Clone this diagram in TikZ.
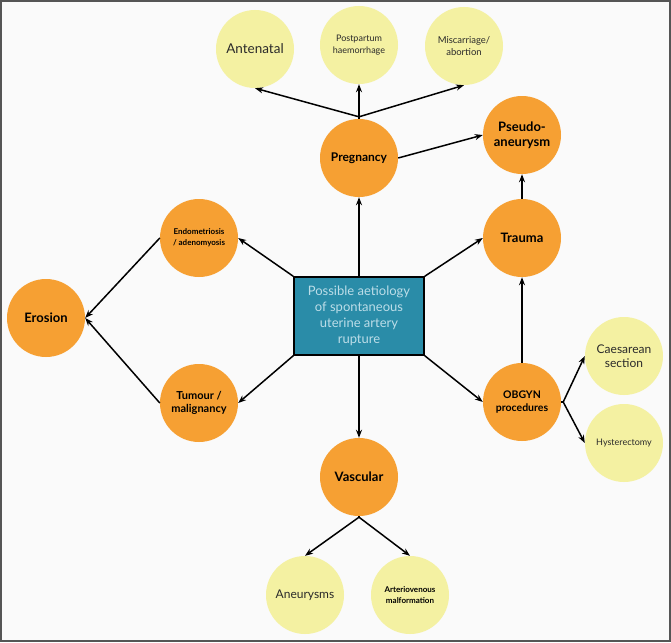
\documentclass[tikz,border=0pt]{standalone}
\usepackage{fontspec}
\setmainfont{Lato}
\usetikzlibrary{arrows.meta}
\definecolor{bgc}{HTML}{FAFAFA}
\definecolor{framec}{HTML}{555555}
\definecolor{orng}{HTML}{F6A033}
\definecolor{ylw}{HTML}{F4F1A2}
\definecolor{teal}{HTML}{2A8CA8}
\definecolor{boxtxt}{HTML}{BCDDE8}
\definecolor{txtc}{HTML}{2A2A2A}
\tikzset{
  ocirc/.style={circle, fill=orng, minimum size=78pt, inner sep=0pt, align=center, text=black, font=\bfseries},
  ycirc/.style={circle, fill=ylw, minimum size=78pt, inner sep=0pt, align=center, text=txtc},
  arr/.style={-{Stealth[length=8pt,width=6pt]}, line width=1.5pt, black},
  ln/.style={line width=1.5pt, black}
}
\begin{document}
\begin{tikzpicture}[x=1pt,y=-1pt]
\fill[bgc] (0,0) rectangle (671,642);
\useasboundingbox (0,0) rectangle (671,642);
\draw[framec, line width=2pt] (1,1) rectangle (670,641);

\node[draw=black, line width=1.4pt, fill=teal, minimum width=130pt, minimum height=78pt, inner sep=0pt, align=center, text=boxtxt, font=\fontsize{13}{16}\selectfont] (box) at (359,316) {Possible aetiology\\of spontaneous\\uterine artery\\rupture};

\node[ycirc, font=\fontsize{13.5}{15}\selectfont] (ante) at (255,49) {Antenatal};
\node[ycirc, font=\fontsize{9}{12}\selectfont] (post) at (359,45) {Postpartum\\haemorrhage};
\node[ycirc, font=\fontsize{9.5}{12}\selectfont] (misc) at (464,46) {Miscarriage/\\abortion};
\node[ocirc, font=\bfseries\fontsize{12}{14}\selectfont] (preg) at (359,158) {Pregnancy};
\node[ocirc, font=\bfseries\fontsize{13}{15}\selectfont] (pseudo) at (522,135) {Pseudo-\\aneurysm};
\node[ocirc, font=\bfseries\fontsize{13}{15}\selectfont] (trauma) at (522,238) {Trauma};
\node[ocirc, font=\bfseries\fontsize{8}{11}\selectfont] (endo) at (199,238) {Endometriosis\\/ adenomyosis};
\node[ocirc, font=\bfseries\fontsize{13}{15}\selectfont] (erosion) at (46,318) {Erosion};
\node[ocirc, font=\bfseries\fontsize{11}{13}\selectfont] (tumour) at (199,403) {Tumour /\\malignancy};
\node[ocirc, font=\bfseries\fontsize{10.5}{13}\selectfont] (obgyn) at (522,402) {OBGYN\\procedures};
\node[ycirc, font=\fontsize{12}{14}\selectfont] (caes) at (624,356) {Caesarean\\section};
\node[ycirc, font=\fontsize{9}{12}\selectfont] (hyst) at (624,443) {Hysterectomy};
\node[ocirc, font=\bfseries\fontsize{13}{15}\selectfont] (vasc) at (359,477) {Vascular};
\node[ycirc, font=\fontsize{12}{14}\selectfont] (aneu) at (305,595) {Aneurysms};
\node[ycirc, font=\bfseries\fontsize{8}{11}\selectfont, text=black] (avm) at (410,595) {Arteriovenous\\malformation};

\coordinate (pj) at ([yshift=2pt]preg.north);
\coordinate (oj) at ([xshift=2pt]obgyn.east);
\coordinate (vj) at ([yshift=-1pt]vasc.south);

\draw[ln] (preg.north) -- (pj);
\draw[arr] (pj) -- (ante.south);
\draw[arr] (pj) -- (post.south);
\draw[arr] (pj) -- (misc.south);
\draw[arr] (preg.east) -- (pseudo.west);
\draw[arr] (trauma.north) -- (pseudo.south);
\draw[arr] (box.north) -- (preg.south);
\draw[arr] (box.north east) -- (trauma.west);
\draw[arr] (box.north west) -- (endo.east);
\draw[arr] (box.south west) -- (tumour.east);
\draw[arr] (box.south east) -- (obgyn.west);
\draw[arr] (box.south) -- (vasc.north);
\draw[arr] (obgyn.north) -- (trauma.south);
\draw[arr] (endo.west) -- (erosion.east);
\draw[arr] (tumour.west) -- (erosion.east);
\draw[ln] (obgyn.east) -- (oj);
\draw[arr] (oj) -- (caes.west);
\draw[arr] (oj) -- (hyst.west);
\draw[ln] (vasc.south) -- (vj);
\draw[arr] (vj) -- (aneu.north);
\draw[arr] (vj) -- (avm.north);
\end{tikzpicture}
\end{document}
